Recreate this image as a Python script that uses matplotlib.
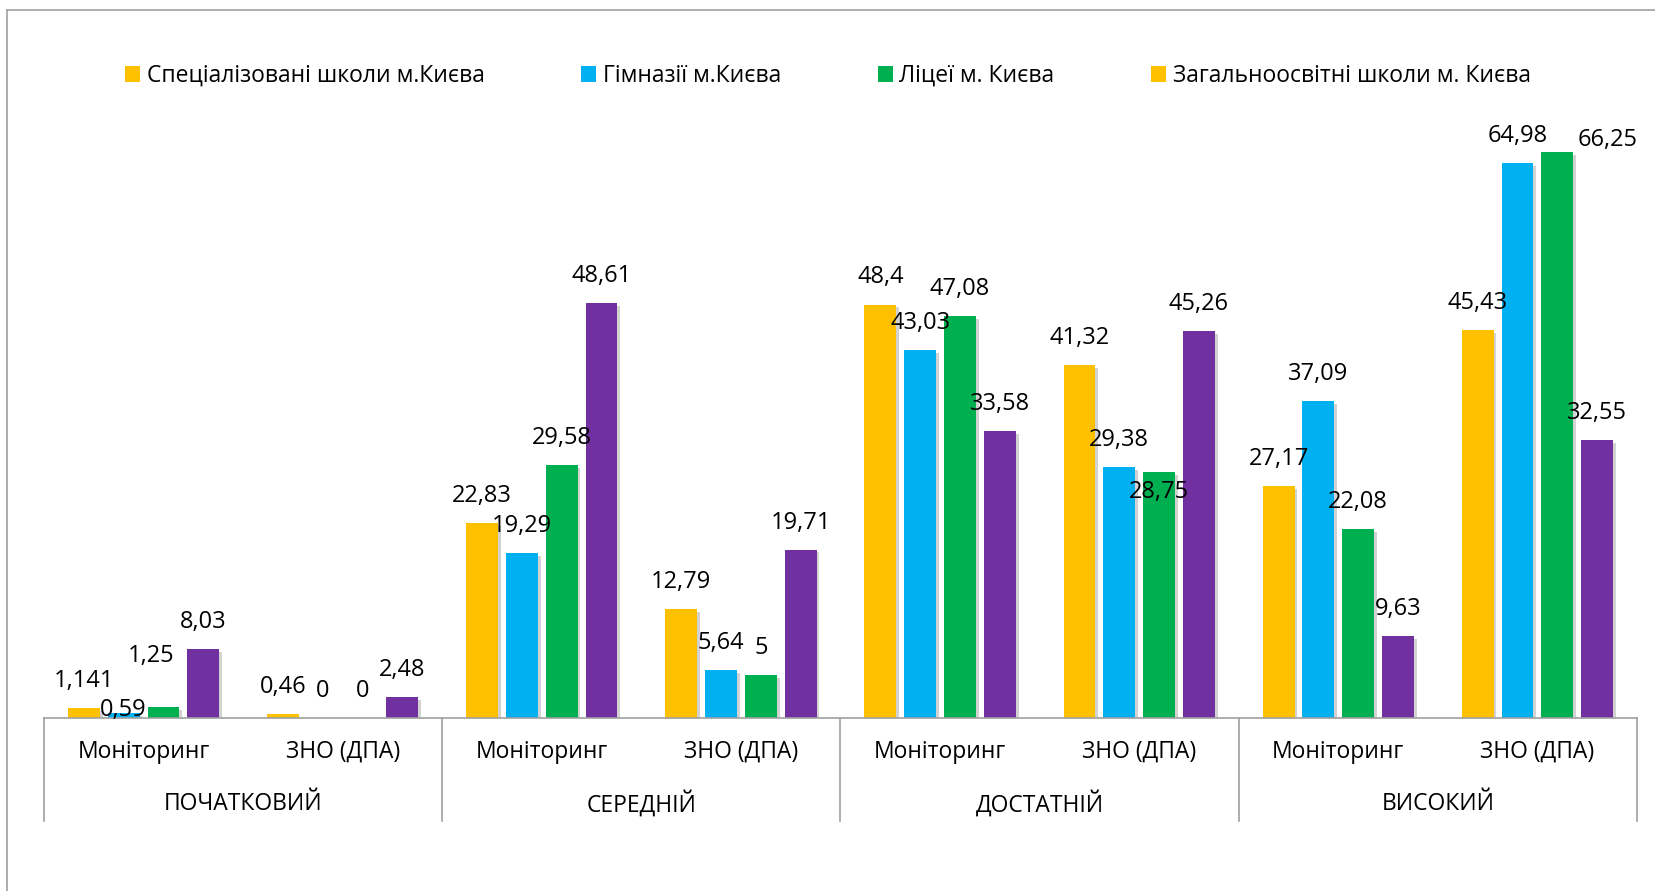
import matplotlib.pyplot as plt
from matplotlib.patches import Patch
from matplotlib.lines import Line2D
import matplotlib.patheffects as pe
import numpy as np

plt.rcParams['font.family'] = ['Open Sans', 'DejaVu Sans']

levels = ['ПОЧАТКОВИЙ', 'СЕРЕДНІЙ', 'ДОСТАТНІЙ', 'ВИСОКИЙ']
kinds = ['Моніторинг', 'ЗНО (ДПА)']

series_names = ['Спеціалізовані школи м.Києва', 'Гімназії м.Києва',
                'Ліцеї м. Києва', 'Загальноосвітні школи м. Києва']
spec = [1.141, 0.46, 22.83, 12.79, 48.4, 41.32, 27.17, 45.43]
gym = [0.59, 0, 19.29, 5.64, 43.03, 29.38, 37.09, 64.98]
lyc = [1.25, 0, 29.58, 5, 47.08, 28.75, 22.08, 66.25]
general = [8.03, 2.48, 48.61, 19.71, 33.58, 45.26, 9.63, 32.55]

colors = ['#FFC000', '#00B0F0', '#00B050', '#7030A0']
legend_colors = ['#FFC000', '#00B0F0', '#00B050', '#FFC000']

# label offsets (points) where excel moved labels to avoid overlaps
special = {(1, 0): (0, 2), (2, 0): (-9, 37), (2, 5): (0, -14), (2, 7): (36, 9)}

fig = plt.figure(figsize=(16.56, 8.91), dpi=100)
ax = fig.add_axes([44 / 1656, 173 / 891, 1593 / 1656, 598 / 891])

x = np.arange(8)
width = 0.16
offsets = [-0.3, -0.1, 0.1, 0.3]
shadow = [pe.SimplePatchShadow(offset=(2, -2), shadow_rgbFace='#808080', alpha=0.35), pe.Normal()]

for i, vals in enumerate([spec, gym, lyc, general]):
    bars = ax.bar(x + offsets[i], vals, width, color=colors[i])
    for b in bars:
        b.set_path_effects(shadow)
    for j, (b, v) in enumerate(zip(bars, vals)):
        dx, dy = special.get((i, j), (0, 19.5))
        ax.annotate(f"{v:g}".replace('.', ','), (b.get_x() + b.get_width() / 2, v),
                    xytext=(dx, dy), textcoords='offset points',
                    ha='center', va='center', fontsize=17, color='black')

ax.set_xlim(-0.5, 7.5)
ax.set_ylim(0, 70)
for s in ['top', 'right', 'left']:
    ax.spines[s].set_visible(False)
ax.spines['bottom'].set_color('#A0A0A0')
ax.spines['bottom'].set_linewidth(1.2)
ax.set_yticks([])
ax.set_xticks([])

trans = ax.get_xaxis_transform()
for sx in [-0.5, 1.5, 3.5, 5.5, 7.5]:
    ax.plot([sx, sx], [0, -103 / 598], color='#A0A0A0', lw=1.2, transform=trans, clip_on=False)
for j in range(8):
    ax.text(j, -34 / 598, kinds[j % 2], transform=trans, ha='center', va='center', fontsize=16.5)
for k, lev in enumerate(levels):
    ax.text(2 * k + 0.5, -86 / 598, lev, transform=trans, ha='center', va='center', fontsize=16.5)

handles = [Patch(facecolor=c) for c in legend_colors]
fig.legend(handles, series_names, loc='center', bbox_to_anchor=(0.5, 1 - 76 / 891), ncol=4,
           frameon=False, fontsize=16.5, handlelength=0.65, handleheight=0.65,
           handletextpad=0.3, columnspacing=4.2)

# outer chart frame (partially cropped)
fig.add_artist(Line2D([7 / 1656, 7 / 1656], [0, 1 - 10 / 891], color='#A0A0A0', lw=1.2))
fig.add_artist(Line2D([7 / 1656, 1], [1 - 10 / 891, 1 - 10 / 891], color='#A0A0A0', lw=1.2))

fig.savefig('out.png', dpi=100)
